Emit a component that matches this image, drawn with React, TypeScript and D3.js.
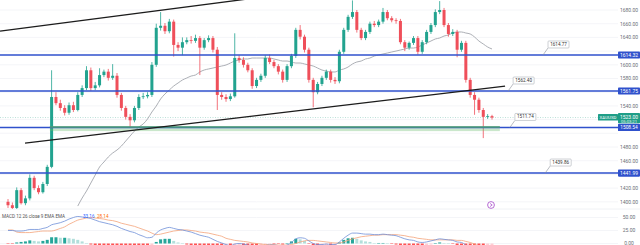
import React from 'react';
import * as d3 from 'd3';

const W = 640;
const H = 245;
const PLOT_R = 618;
const PANE_SPLIT = 209;

// OHLC per bar: [open, high, low, close]
const candles: [number, number, number, number][] = [
  [1400, 1404, 1391, 1395], [1395, 1399, 1388, 1391], [1391, 1421, 1389, 1417], [1417, 1420, 1396, 1398],
  [1398, 1409, 1395, 1405], [1405, 1440, 1402, 1435], [1435, 1438, 1417, 1420], [1420, 1424, 1411, 1414],
  [1414, 1429, 1412, 1426], [1426, 1454, 1423, 1451], [1451, 1592, 1449, 1553], [1553, 1560, 1541, 1544],
  [1544, 1549, 1533, 1537], [1537, 1541, 1526, 1530], [1530, 1545, 1527, 1541], [1541, 1546, 1531, 1534],
  [1534, 1560, 1532, 1556], [1556, 1570, 1553, 1566], [1566, 1598, 1563, 1592], [1592, 1596, 1562, 1566],
  [1566, 1575, 1563, 1570], [1570, 1595, 1567, 1585], [1585, 1593, 1582, 1590], [1590, 1594, 1577, 1581],
  [1581, 1601, 1578, 1584], [1584, 1588, 1552, 1556], [1556, 1559, 1533, 1537], [1537, 1540, 1520, 1524],
  [1524, 1528, 1508, 1519], [1519, 1540, 1516, 1537], [1537, 1557, 1534, 1553], [1553, 1559, 1550, 1554],
  [1554, 1560, 1551, 1556], [1556, 1604, 1553, 1600], [1600, 1660, 1597, 1654], [1654, 1677, 1650, 1657],
  [1657, 1661, 1645, 1649], [1649, 1667, 1646, 1663], [1663, 1666, 1612, 1629], [1629, 1633, 1620, 1625],
  [1625, 1640, 1614, 1633], [1633, 1640, 1630, 1636], [1636, 1642, 1631, 1635], [1635, 1644, 1632, 1639],
  [1639, 1642, 1585, 1625], [1625, 1639, 1622, 1636], [1636, 1643, 1633, 1639], [1639, 1642, 1618, 1622],
  [1622, 1626, 1534, 1556], [1556, 1560, 1549, 1553], [1553, 1557, 1546, 1550], [1550, 1558, 1547, 1554],
  [1554, 1646, 1552, 1610], [1610, 1614, 1603, 1607], [1607, 1611, 1596, 1600], [1600, 1603, 1589, 1592],
  [1592, 1595, 1565, 1569], [1569, 1581, 1566, 1578], [1578, 1587, 1575, 1584], [1584, 1614, 1581, 1610],
  [1610, 1615, 1601, 1604], [1604, 1607, 1595, 1598], [1598, 1601, 1586, 1590], [1590, 1593, 1574, 1578],
  [1578, 1601, 1575, 1598], [1598, 1616, 1595, 1613], [1613, 1654, 1610, 1651], [1651, 1658, 1637, 1641],
  [1641, 1644, 1618, 1622], [1622, 1625, 1574, 1578], [1578, 1581, 1538, 1560], [1560, 1575, 1557, 1572],
  [1572, 1584, 1569, 1581], [1581, 1593, 1578, 1590], [1590, 1593, 1574, 1578], [1578, 1582, 1572, 1576],
  [1576, 1622, 1573, 1619], [1619, 1654, 1616, 1651], [1651, 1673, 1648, 1670], [1670, 1694, 1667, 1677],
  [1677, 1680, 1647, 1651], [1651, 1654, 1636, 1639], [1639, 1651, 1636, 1648], [1648, 1663, 1645, 1660],
  [1660, 1664, 1655, 1658], [1658, 1666, 1655, 1663], [1663, 1683, 1660, 1677], [1677, 1680, 1665, 1668],
  [1668, 1671, 1662, 1665], [1665, 1668, 1660, 1664], [1664, 1667, 1630, 1633], [1633, 1636, 1620, 1625],
  [1625, 1634, 1622, 1632], [1632, 1642, 1629, 1639], [1639, 1642, 1615, 1619], [1619, 1636, 1616, 1633],
  [1633, 1651, 1630, 1648], [1648, 1661, 1645, 1658], [1658, 1681, 1655, 1677], [1677, 1693, 1674, 1680],
  [1680, 1683, 1655, 1658], [1658, 1661, 1641, 1645], [1645, 1652, 1642, 1648], [1648, 1651, 1611, 1622],
  [1622, 1635, 1619, 1632], [1632, 1635, 1574, 1578], [1578, 1581, 1552, 1556], [1556, 1560, 1527, 1549],
  [1549, 1552, 1530, 1534], [1534, 1537, 1493, 1524], [1524, 1528, 1521, 1525], [1525, 1527, 1520, 1523],
];

// moving average, first value belongs to bar maStart
const maStart = 16;
const maValues = [
  1393.8, 1405.5, 1415.7, 1427.4, 1439.1, 1450.8, 1458.1, 1465.4, 1471.2, 1475.6, 1481.4, 1488.7,
  1496.0, 1503.3, 1509.2, 1513.6, 1520.9, 1531.1, 1539.8, 1550.1, 1557.4, 1563.2, 1569.0, 1573.4,
  1577.8, 1580.7, 1583.6, 1585.1, 1589.5, 1592.4, 1593.9, 1595.3, 1596.8, 1598.2, 1599.7, 1602.6,
  1605.5, 1607.0, 1608.5, 1608.5, 1609.9, 1609.9, 1609.9, 1609.9, 1609.9, 1608.5, 1607.0, 1605.5,
  1605.5, 1604.1, 1602.6, 1602.6, 1601.2, 1599.7, 1598.2, 1595.3, 1592.4, 1590.9, 1589.5, 1589.5,
  1592.4, 1593.9, 1596.8, 1601.2, 1604.1, 1605.5, 1608.5, 1609.9, 1612.8, 1614.3, 1615.8, 1617.2,
  1618.7, 1620.1, 1621.6, 1623.1, 1624.5, 1624.5, 1626.0, 1628.9, 1631.8, 1634.7, 1637.7, 1639.1,
  1642.0, 1643.5, 1646.4, 1647.9, 1647.9, 1646.4, 1645.0, 1640.6, 1634.7, 1630.4, 1626.0, 1623.1,
];

const macdValues = [
  25, 25, 24, 24, 25, 27, 27, 27, 29, 31, 36, 38, 40, 43, 47, 50, 52, 51, 50, 48, 45, 42, 40, 38,
  36, 33, 29, 26, 23, 21, 17, 14, 11, 12, 20, 26, 29, 31, 29, 27, 26, 24, 22, 19, 16, 14, 12, 8,
  4, 1, -2, -4, -1, 0, -1, -3, -6, -7, -7, -4, -3, -3, -4, -5, -3, 2, 9, 11, 10, 5, 0, -2,
  -2, -1, -2, -2, 3, 10, 16, 20, 20, 19, 18, 18, 17, 17, 18, 17, 16, 15, 12, 9, 7, 6, 3, 2,
  3, 5, 7, 9, 8, 7, 6, 3, 2, -3, -9, -14, -19, -23, -26, -28,
];

const signalValues = [
  26, 26, 22, 21, 21, 21, 22, 23, 24, 24, 24, 26, 29, 32, 37, 41, 45, 47, 49, 50, 49, 48, 47, 45,
  44, 42, 39, 37, 35, 33, 30, 27, 24, 20, 17, 18, 20, 22, 24, 25, 26, 26, 25, 24, 22, 21, 20, 18,
  16, 14, 10, 8, 6, 5, 4, 3, 1, 0, -1, -2, -2, -2, -3, -3, -3, -2, 0, 3, 5, 6, 6, 5,
  4, 3, 2, 1, 1, 3, 6, 9, 11, 13, 14, 15, 16, 16, 17, 17, 17, 17, 16, 15, 13, 12, 10, 9,
  8, 7, 7, 7, 7, 7, 7, 6, 6, 4, 2, -1, -5, -8, -12, -15,
];

const priceTicks = [1680, 1660, 1640, 1620, 1600, 1580, 1560, 1540, 1520, 1500, 1480, 1460, 1440, 1420, 1400];
const macdTicks = [50, 25, 0];

// horizontal support / resistance levels
const levels = [1614.32, 1561.75, 1508.54, 1441.99];
// support zone [from bar, to bar, top price, bottom price]
const zone: [number, number, number, number] = [9.6, 112.8, 1510.2, 1503.2];

// trend channel lines as [bar, price] pairs
const trendLines: [number, number][][] = [
  [[-1.83, 1649.3], [62.4, 1702.2]],
  [[3.9, 1485.8], [114.0, 1569.0]],
];

// price notes: text, anchor bar, anchor price
const noteTexts = ['1614.77', '1562.40', '1511.74', '1439.86'];
const noteAnchors: [number, number][] = [[122.7, 1614.32], [114.7, 1561.75], [115.1, 1508.54], [123.2, 1441.99]];

const lastPrice = 1523.0;
const countdown = '05:03:21';
const symbolTag = 'XAUUSD';
const macdTitle = 'MACD 12 26 close 9 EMA EMA';
const macdReadout = ['33.16', '28.14'];

const UP = '#22a38f';
const DOWN = '#ef4f5a';
const LEVEL = '#2f51cc';
const FONT = 'Roboto, "Liberation Sans", sans-serif';

const x = d3.scaleLinear().domain([0, 111]).range([8, 492]);
const y = d3.scaleLinear().domain([1680, 1400]).range([10, 201.8]);
const ym = d3.scaleLinear().domain([0, 50]).range([243.5, 217.5]);

// scale labels hidden behind tags
const taggedPrices = [...levels, lastPrice];
const visibleTicks = priceTicks.filter((t) => taggedPrices.every((p) => Math.abs(y(t) - y(p)) > 6.5));

export default function App() {
  const maLine = d3
    .line<number>()
    .x((_, i) => x(i + maStart))
    .y((d) => y(d))
    .curve(d3.curveMonotoneX)(maValues) || '';
  const macdLine = d3.line<number>().x((_, i) => x(i)).y((d) => ym(d)).curve(d3.curveMonotoneX);
  const hist = macdValues.map((m, i) => m - signalValues[i]);
  const bodyW = 3;

  return (
    <svg
      width={W}
      height={H}
      viewBox={`0 0 ${W} ${H}`}
      style={{ position: 'fixed', left: 0, top: 0, background: '#fff', fontFamily: FONT }}
    >
      <defs>
        <clipPath id="mainPane">
          <rect x={0} y={0} width={PLOT_R} height={PANE_SPLIT} />
        </clipPath>
        <clipPath id="macdPane">
          <rect x={0} y={PANE_SPLIT} width={PLOT_R} height={H - PANE_SPLIT} />
        </clipPath>
      </defs>
      <rect x={0} y={0} width={W} height={H} fill="#fff" />

      {/* grid */}
      <g stroke="#f1f3f6" strokeWidth={0.8}>
        {priceTicks.map((t) => (
          <line key={t} x1={0} x2={PLOT_R} y1={y(t)} y2={y(t)} />
        ))}
        {macdTicks.map((t) => (
          <line key={'m' + t} x1={0} x2={PLOT_R} y1={ym(t)} y2={ym(t)} />
        ))}
      </g>
      <line x1={0} x2={W} y1={PANE_SPLIT} y2={PANE_SPLIT} stroke="#eceff3" strokeWidth={0.8} />

      <g clipPath="url(#mainPane)">
        {/* last price line */}
        <line x1={0} x2={PLOT_R} y1={y(lastPrice)} y2={y(lastPrice)} stroke="#9fd3c9" strokeWidth={0.7} strokeDasharray="1 1.5" />

        {/* moving average */}
        <path d={maLine} fill="none" stroke="#a3a6ad" strokeWidth={0.9} />

        {/* candles */}
        {candles.map(([o, h, l, c], i) => {
          const col = c >= o ? UP : DOWN;
          const top = y(Math.max(o, c));
          const bh = Math.max(0.8, Math.abs(y(o) - y(c)));
          return (
            <g key={i}>
              <line x1={x(i)} x2={x(i)} y1={y(h)} y2={y(l)} stroke={col} strokeWidth={0.8} />
              <rect x={x(i) - bodyW / 2} y={top} width={bodyW} height={bh} fill={col} />
            </g>
          );
        })}

        {/* support zone */}
        <rect
          x={x(zone[0])}
          y={y(zone[2])}
          width={x(zone[1]) - x(zone[0])}
          height={y(zone[3]) - y(zone[2])}
          fill="rgba(102,187,106,0.35)"
        />

        {/* levels */}
        {levels.map((v) => (
          <line key={v} x1={0} x2={PLOT_R} y1={y(v)} y2={y(v)} stroke={LEVEL} strokeWidth={1.5} />
        ))}
        <line
          x1={x(zone[0])}
          x2={x(zone[1])}
          y1={y(zone[2]) + 0.7}
          y2={y(zone[2]) + 0.7}
          stroke="#4f9f74"
          strokeWidth={1.6}
        />

        {/* trend channel */}
        {trendLines.map((seg, k) => (
          <line
            key={k}
            x1={x(seg[0][0])}
            y1={y(seg[0][1])}
            x2={x(seg[1][0])}
            y2={y(seg[1][1])}
            stroke="#1c1c1c"
            strokeWidth={1.3}
          />
        ))}

        {/* price notes */}
        {noteTexts.map((t, k) => {
          const ax = x(noteAnchors[k][0]);
          const ay = y(noteAnchors[k][1]);
          const bx = ax + 5;
          const by = ay - 14;
          return (
            <g key={t}>
              <line x1={ax} y1={ay} x2={bx} y2={by + 7} stroke="#8a8f99" strokeWidth={0.6} />
              <rect x={bx} y={by} width={21} height={7} fill="#fff" stroke="#9aa0a8" strokeWidth={0.5} rx={0.8} />
              <text x={bx + 10.5} y={by + 5} fontSize={4.6} textAnchor="middle" fill="#333">
                {t}
              </text>
            </g>
          );
        })}

        {/* realtime button */}
        <circle cx={491} cy={205} r={3.4} fill="#fff" stroke="#a346c9" strokeWidth={0.8} />
        <path d="M490,203.4 L492.2,205 L490,206.6" fill="none" stroke="#a346c9" strokeWidth={0.7} />
      </g>

      {/* macd pane */}
      <g clipPath="url(#macdPane)">
        {hist.map((v, i) => {
          const prev = i > 0 ? hist[i - 1] : v;
          const col = v >= 0 ? (v >= prev ? '#26a69a' : '#b2dfdb') : v <= prev ? '#ff5252' : '#ffcdd2';
          const y0 = ym(0);
          const y1 = ym(v);
          return (
            <rect key={i} x={x(i) - 1.5} y={Math.min(y0, y1)} width={3} height={Math.max(0.5, Math.abs(y1 - y0))} fill={col} />
          );
        })}
        <path d={macdLine(signalValues) || ''} fill="none" stroke="#f4a37a" strokeWidth={0.8} />
        <path d={macdLine(macdValues) || ''} fill="none" stroke="#6f8fd8" strokeWidth={0.8} />
      </g>
      <text x={2} y={217.5} fontSize={4.6} fill="#555">
        {macdTitle}
      </text>
      <text x={83} y={217.5} fontSize={4.6} fill="#2962ff">
        {macdReadout[0]}
      </text>
      <text x={97} y={217.5} fontSize={4.6} fill="#ff6d00">
        {macdReadout[1]}
      </text>

      {/* price scale */}
      <g fontSize={5} fill="#6b6f78" textAnchor="middle">
        {visibleTicks.map((t) => (
          <text key={t} x={629} y={y(t) + 1.8}>
            {d3.format('.2f')(t)}
          </text>
        ))}
        {macdTicks.map((t) => (
          <text key={'m' + t} x={629} y={ym(t) + 1.8}>
            {d3.format('.2f')(t)}
          </text>
        ))}
      </g>

      {/* level tags */}
      {levels.map((v) => (
        <g key={'tag' + v}>
          <rect x={618} y={y(v) - 3.6} width={22} height={7.2} fill={LEVEL} rx={0.8} />
          <text x={629} y={y(v) + 1.8} fontSize={5} fill="#fff" textAnchor="middle">
            {d3.format('.2f')(v)}
          </text>
        </g>
      ))}

      {/* last price tag */}
      <rect x={598} y={y(lastPrice) - 3.5} width={20} height={6.5} fill="#1f9e87" rx={0.6} />
      <text x={608} y={y(lastPrice) + 1.6} fontSize={4.4} fill="#fff" textAnchor="middle">
        {symbolTag}
      </text>
      <rect x={618} y={y(lastPrice) - 4.5} width={22} height={10.3} fill="#1f9e87" rx={0.8} />
      <text x={629} y={y(lastPrice) + 1.2} fontSize={5} fill="#fff" textAnchor="middle">
        {d3.format('.2f')(lastPrice)}
      </text>
      <text x={629} y={y(lastPrice) + 5.2} fontSize={4.2} fill="#e6f5f2" textAnchor="middle">
        {countdown}
      </text>
      {/* level tag that sits just under the last price tag */}
      <rect x={618} y={y(levels[2]) - 3.0} width={22} height={6.6} fill={LEVEL} rx={0.8} />
      <text x={629} y={y(levels[2]) + 2} fontSize={4.8} fill="#fff" textAnchor="middle">
        {d3.format('.2f')(levels[2])}
      </text>
    </svg>
  );
}
